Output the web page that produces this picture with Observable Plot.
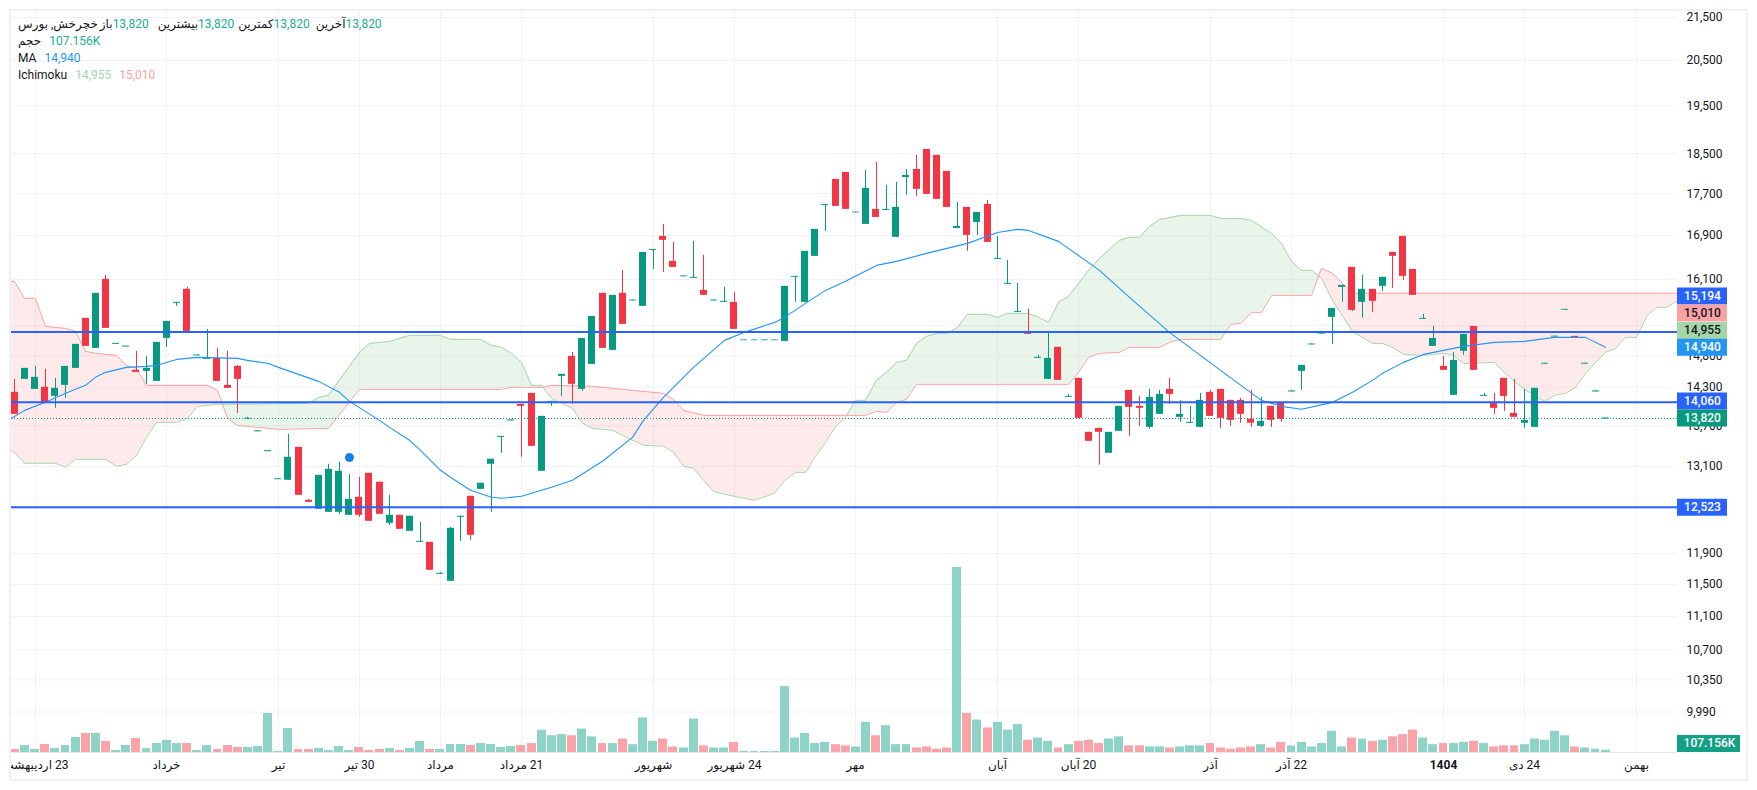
<!DOCTYPE html>
<html><head><meta charset="utf-8">
<script src="https://cdn.jsdelivr.net/npm/d3@7"></script>
<script src="https://cdn.jsdelivr.net/npm/@observablehq/plot@0.6"></script>
<style>
html,body{margin:0;padding:0;background:#fff;width:1757px;height:790px;overflow:hidden}
#box{position:absolute;left:9px;top:9px;width:1739px;height:772px;border:2px solid #f0f0f5;box-sizing:border-box;background:#fff}
#box svg{position:absolute;left:0;top:0}
#legend{position:absolute;left:7px;top:5px;z-index:5;font:12px Roboto,"DejaVu Sans",sans-serif;color:#131722;line-height:17px;direction:ltr}
#legend .row{display:flex;height:17px;white-space:nowrap}
#legend span{unicode-bidi:isolate;display:inline-block}
</style></head><body>
<div id="box"><div id="legend"></div></div>
<script>
const open=[14216,14421,14263,14295,14153,14326,14597,15425,14923,16104,14990,14945,14565,14549,14389,15088,15683,15927,14800,14742,14759,14326,14629,13800,13610,13315,12910,12901,13379,12619,12495,12453,12453,12412,12661,13001,12873,12303,12412,12195,12047,12047,11630,11540,12385,12675,12773,13131,13527,13775,14029,14200,13030,14060,14469,14791,14263,14661,15857,14890,15857,15725,15631,16627,16887,16427,16150,16122,15909,15725,15700,15700,15050,15050,15050,15050,15038,16140,15700,16518,17474,17982,18121,17330,17111,17396,17377,16868,18021,18181,18587,18465,18141,17035,17435,17148,17493,16463,16015,15528,15205,14759,14421,14940,14138,14437,13602,13662,13291,13617,14247,13998,13677,13875,14263,13829,13738,13677,14216,14263,14091,14091,13799,13692,13998,14044,14222,14549,14980,15160,15442,15962,16318,15700,15927,15980,16590,16887,16282,15408,14956,14629,14169,14874,15289,14153,14044,14437,13890,13738,13677,14665,15110,15565,15122,14665,14222,13805];
const close=[13875,14597,14453,14060,14279,14629,14989,14956,15857,15256,15005,14960,14533,14597,15022,15374,15700,15205,14815,14759,14389,14279,14421,13814,13625,13330,12922,13233,12689,12591,12972,13058,13030,12633,12412,12330,12426,12412,12222,12399,12060,11681,11643,12235,12399,12141,12859,13204,13542,13790,13998,13394,13844,14075,14501,14342,15088,15459,14923,15822,15323,15740,16590,16645,16812,16318,16165,16140,15822,15740,15718,15239,15062,15062,15062,15062,15980,16157,16609,17017,17493,17454,17396,17345,17805,17243,17396,17435,18061,17785,17687,17590,17435,17073,16905,17339,16775,16481,16033,15545,15155,14775,14759,14405,14153,13814,13468,13602,13602,13998,13982,13967,14138,14184,14184,13875,13753,14091,13844,13814,13783,13875,13738,13768,13783,13799,14238,14645,14995,15175,15596,15997,15562,15927,15718,16140,16518,16157,15822,15425,15088,14565,14726,15155,14565,14169,13967,14153,13829,13783,14279,14680,15125,15580,15088,14680,14238,13820];
const high=[14421,14597,14629,14581,14437,14629,14989,15425,15857,16175,15005,14960,14874,14791,15022,15374,15700,15962,14815,15239,14923,14874,14645,13829,13625,13330,12922,13572,13379,12633,12972,13131,13160,12986,12944,13001,12873,12689,12412,12399,12317,12047,11655,12249,12399,12675,12859,13204,13542,13790,14029,14200,13844,14075,14501,14857,15088,15459,15857,15822,16264,15740,16590,16645,17111,16775,16165,16793,16536,15740,15962,15874,15062,15062,15062,15062,15980,16157,16609,17017,17493,17982,18121,17345,18161,18322,17864,17923,18181,18465,18587,18465,18141,17531,17435,17339,17570,16887,16445,16033,15579,14808,15189,14940,14184,14437,13602,13662,13602,13998,14247,14153,14263,14247,14437,14091,13998,14200,14247,14263,14091,14122,14247,14138,13998,14044,14238,14645,14995,15175,15596,15997,16318,16175,15927,16140,16590,16887,16282,15494,15289,14791,14857,15155,15289,14200,14200,14437,14421,14263,14279,14680,15125,15580,15122,14680,14238,13820];
const low=[13875,14421,14263,14060,13967,14122,14597,14956,14923,15256,14990,14945,14533,14342,14389,14940,15631,15205,14800,14742,14389,14279,13890,13800,13610,13315,12910,12901,12689,12591,12495,12453,12426,12412,12385,12330,12426,12276,12222,12195,12047,11681,11630,11540,12060,12074,12773,12453,13291,13775,13233,13394,13030,13998,14153,14029,14231,14661,14923,14890,15323,15725,15631,16282,16228,16318,16150,16122,15822,15725,15700,15239,15050,15050,15050,15050,15038,15700,15700,16518,16979,17454,17396,17330,17111,17243,17377,16868,17668,17648,17687,17590,17435,17035,16609,16905,16775,16463,16015,15528,15155,14759,14421,14405,14138,13814,13468,13116,13291,13617,13542,13692,13647,13875,14029,13753,13738,13677,13844,13662,13692,13738,13677,13677,13677,13753,14222,14247,14980,15160,14989,15700,15545,15425,15528,15892,15944,16086,15822,15408,14956,14565,14169,14808,14565,14153,13875,13921,13829,13662,13677,14665,15110,15565,15088,14665,14222,13805];
const volume=[36,84,36,96,48,84,180,228,228,132,24,84,168,48,108,144,108,108,24,84,36,84,60,60,72,468,12,288,36,36,48,24,72,24,60,24,36,48,24,48,132,36,36,96,96,84,108,96,60,72,84,107,268,201,214,201,281,188,107,107,161,94,415,134,161,67,54,402,80,54,54,121,13,13,13,13,791,174,228,107,121,94,80,67,362,201,322,94,94,54,67,40,54,2220,469,389,295,362,268,335,147,174,134,54,94,134,147,107,161,188,80,80,67,67,54,67,80,80,107,54,40,54,67,94,54,121,80,121,67,107,255,67,174,161,134,147,188,214,268,174,94,107,107,121,134,107,67,80,80,94,161,147,255,201,67,54,40,27];

const maIndex=[-0.33,1,3,5,7,8,9,11,13,14,16,18,22,23,25,26,28,30,32,33,36,37,39,40,42,43,45,47,48,50,53,55,58,61,62,64,67,70,72,75,76,78,80,82,85,87,90,94,97,99,100,103,107,110,114,119,123,125,127,130,132,134,135,137,139,143,146,149,152,155,157];
const maValue=[13814,13936,14060,14200,14326,14453,14533,14613,14629,14645,14742,14775,14759,14726,14677,14613,14501,14389,14216,14075,13783,13677,13483,13335,13044,12944,12759,12661,12647,12675,12802,12901,13175,13527,13783,14138,14613,15055,15189,15357,15442,15683,15909,16069,16354,16427,16572,16756,16960,17017,16998,16793,16264,15787,15189,14565,14091,13998,13952,14060,14216,14405,14517,14694,14824,14956,15022,15038,15105,15105,14940];

const leadBIndex=[-0.33,0,1,2,3,5,6,7,8,10,11,12,13,19,20,21,22,26,31,34,48,49,52,53,57,60,61,64,65,66,68,84,85,86,87,88,89,104,105,106,107,109,110,113,114,115,119,120,121,122,123,124,128,129,130,132,164.09];
const leadBValue=[16068,16068,15770,15770,15289,15256,15205,14874,14841,14808,14645,14597,14326,14326,14247,13814,13707,13647,13662,14263,14263,14295,14295,14326,14311,14263,14247,14200,14106,13936,13860,13860,13921,13905,14060,14106,14342,14342,14533,14775,14841,14857,14940,14940,15022,15072,15072,15323,15340,15528,15528,15822,15822,16300,16211,15860,15860];
const leadAIndex=[-0.33,0,1,4,5,6,9,10,11,12,13,14,16,17,18,20,29,30,31,34,35,37,39,42,43,46,47,48,49,50,51,52,53,55,56,57,59,60,62,64,65,66,67,68,69,70,73,75,76,77,78,79,80,81,82,83,84,85,86,87,88,89,90,91,92,93,94,96,97,98,100,101,102,103,104,105,106,107,109,110,111,112,113,115,118,119,121,122,124,125,126,127,128,129,130,132,134,135,136,137,139,141,142,143,146,147,148,149,151,152,153,154,155,156,157,158,159,160,161,162,163,164,164.09];
const leadAValue=[13320,13305,13146,13146,13087,13204,13204,13102,13131,13262,13527,13753,13753,13814,13998,14029,14044,14138,14169,14857,15005,15038,15139,15139,15072,15072,14972,14940,14841,14694,14326,14326,14122,13967,13738,13662,13632,13557,13409,13394,13305,13102,13073,12901,12745,12703,12619,12717,12901,13015,13015,13247,13453,13692,13829,14091,14091,14405,14533,14694,14726,15005,15122,15172,15172,15272,15494,15494,15442,15511,15511,15442,15357,15700,15805,16033,16264,16481,16812,16868,16868,17073,17205,17281,17281,17224,17224,17186,16942,16756,16427,16264,16264,16122,15735,15205,15005,15005,14940,14824,14808,14841,14808,14677,14694,14533,14389,14263,14075,14169,14200,14295,14517,14694,14857,14923,15105,15105,15459,15614,15614,15718,15718];

const gridTicks=[21500,20500,19500,18500,17700,16900,16100,15300,14800,14300,13700,13100,12500,11900,11500,11100,10700,10350,9990];
const priceLabels=[21500,20500,19500,18500,17700,16900,16100,14800,14300,13700,13100,11900,11500,11100,10700,10350,9990];
const timeIndex=[2,15,26,34,42,50,63,71,83,97,105,118,126,149,160];
const timeLabels=["23 اردیبهشت","خرداد","تیر","30 تیر","مرداد","21 مرداد","شهریور","24 شهریور","مهر","آبان","20 آبان","آذر","22 آذر","24 دی","بهمن"];
const yearIndex=[141];
const yearLabels=["1404"];

const levelValues=[15194,14060,12523];
const lastPrice=13820;
const tagText=["15,194","15,010","14,955","14,940","14,060","13,820","12,523"];
const tagLevel=[15810,15516,15222,14940,14080,13820,12523];
const tagFill=["#2962FF","#FAA1A4","#A5D6A7","#2196F3","#2962FF","#089981","#2962FF"];
const tagInk=["#fff","#131722","#131722","#fff","#fff","#fff","#fff"];
const markerIndex=[33];
const markerPrice=[13230];

const UP="#089981",DOWN="#F23645",GRID="#f2f2f6",FONT='Roboto,"DejaVu Sans",sans-serif';
const W=1735,H=768,FRAME=1666,XDOM=[-0.326,164.09],AX1=164.09,AX2=169.02,AXC=166.55,AX2V=170.3,AXCV=167.2;
const frameStyle={fontFamily:FONT,fontSize:"12px",background:"transparent",overflow:"hidden",color:"#131722"};

const candles=open.map((o,i)=>({i,o,c:close[i],h:high[i],l:low[i],v:volume[i],up:close[i]>=o}));
const ups=candles.filter(d=>d.up),downs=candles.filter(d=>!d.up);
const pts=(xs,ys)=>xs.map((x,k)=>({x,y:ys[k]}));

// cloud fill: both spans on the merged set of positions, plus their crossings
const at=(xs,ys,x)=>{let k=d3.bisectRight(xs,x)-1;k=Math.max(0,Math.min(k,xs.length-2));
  const t=(x-xs[k])/(xs[k+1]-xs[k]);return Math.exp(Math.log(ys[k])*(1-t)+Math.log(ys[k+1])*t)};
const xsAll=Array.from(new Set([...leadAIndex,...leadBIndex])).sort((a,b)=>a-b);
const cloud=[];
xsAll.forEach((x,k)=>{const a=at(leadAIndex,leadAValue,x),b=at(leadBIndex,leadBValue,x);
  if(k){const px=xsAll[k-1],pa=at(leadAIndex,leadAValue,px),pb=at(leadBIndex,leadBValue,px);
    const d0=Math.log(pa/pb),d1=Math.log(a/b);
    if(d0*d1<0){const t=d0/(d0-d1),xx=px+t*(x-px),v=at(leadAIndex,leadAValue,xx);cloud.push({x:xx,a:v,b:v})}}
  cloud.push({x,a,b})});

const bodies=(rows,fill)=>Plot.rect(rows,{x1:d=>d.i-.345,x2:d=>d.i+.345,y1:"o",y2:"c",fill});
const wicks=(rows,stroke)=>Plot.ruleX(rows,{x:"i",y1:"l",y2:"h",stroke,strokeWidth:1});

const tags=tagText.map((t,k)=>({t,y:tagLevel[k],f:tagFill[k],ink:tagInk[k]}));

const price=Plot.plot({
  width:W,height:H,marginLeft:0,marginRight:W-FRAME,marginTop:0,marginBottom:27,style:frameStyle,
  x:{domain:XDOM,range:[0,FRAME],axis:null,round:true},
  y:{type:"log",domain:[21500,9990],range:[6,700.5],axis:null},
  marks:[
    Plot.gridY(gridTicks,{stroke:GRID,strokeOpacity:1}),
    Plot.gridX([...timeIndex,...yearIndex],{stroke:GRID,strokeOpacity:1}),
    Plot.axisY(priceLabels,{anchor:"right",tickSize:0,tickPadding:9,tickFormat:d3.format(","),label:null,fontSize:12,fill:"#131722"}),
    Plot.axisX(timeIndex,{anchor:"bottom",tickSize:0,tickPadding:8,label:null,fontSize:12,fill:"#131722",
      tickFormat:d=>"\u202B"+timeLabels[timeIndex.indexOf(d)]+"\u202C"}),
    Plot.axisX(yearIndex,{anchor:"bottom",tickSize:0,tickPadding:8,label:null,fontSize:12,fontWeight:"bold",fill:"#131722",
      tickFormat:d=>yearLabels[yearIndex.indexOf(d)]}),
    Plot.areaY(cloud,{x:"x",y1:"a",y2:d=>Math.min(d.a,d.b),fill:"#a5d6a7",fillOpacity:.24}),
    Plot.areaY(cloud,{x:"x",y1:"b",y2:d=>Math.min(d.a,d.b),fill:"#f77c80",fillOpacity:.16}),
    Plot.line(pts(leadAIndex,leadAValue),{x:"x",y:"y",stroke:"#A5D6A7",strokeWidth:1}),
    Plot.line(pts(leadBIndex,leadBValue),{x:"x",y:"y",stroke:"#FAA1A4",strokeWidth:1}),
    wicks(ups,UP),wicks(downs,DOWN),bodies(ups,UP),bodies(downs,DOWN),
    Plot.line(pts(maIndex,maValue),{x:"x",y:"y",stroke:"#2196F3",strokeWidth:1.1}),
    Plot.ruleY([lastPrice],{stroke:UP,strokeWidth:1,strokeDasharray:"1,2",dy:.5}),
    Plot.ruleY(levelValues,{stroke:"#2962FF",strokeWidth:2}),
    Plot.dot(markerIndex.map((x,k)=>({x,y:markerPrice[k]})),{x:"x",y:"y",r:4,fill:"#0A84FF",stroke:"#1E6FD0",strokeWidth:1}),
    Plot.ruleY(tags,{y:"y",x1:()=>AX1,x2:()=>AX2,stroke:"f",strokeWidth:17}),
    Plot.text(tags,{x:()=>AXC,y:"y",text:"t",fill:"ink",fontSize:12,fontWeight:500})
  ]
});

const volTag=[{y:107.156,t:"107.156K"}];
const vols=Plot.plot({
  width:W,height:H,marginLeft:0,marginRight:W-FRAME,marginTop:0,marginBottom:27,style:frameStyle,
  x:{domain:XDOM,range:[0,FRAME],axis:null,round:true},
  y:{domain:[0,2220],range:[741,556],axis:null},
  marks:[
    Plot.rect(candles,{x1:d=>d.i-.44,x2:d=>d.i+.44,y1:()=>0,y2:"v",fill:d=>d.up?"#8DD4C7":"#FAA3A8"}),
    Plot.ruleY([0],{stroke:"#e6e6ec",strokeWidth:1}),
    Plot.ruleY(volTag,{y:"y",x1:()=>AX1,x2:()=>AX2V,stroke:"#14A085",strokeWidth:17}),
    Plot.text(volTag,{x:()=>AXCV,y:"y",text:"t",fill:"#fff",fontSize:12,fontWeight:500})
  ]
});

const box=document.getElementById("box");
box.insertBefore(price,box.firstChild);
box.insertBefore(vols,price.nextSibling);

const legendRows=[
  [["خچرخش, بورس","#131722",0],["باز","#131722",2],["13,820","#22AB94",0],["بیشترین","#131722",9],["13,820","#22AB94",0],["کمترین","#131722",4],["13,820","#22AB94",0],["آخرین","#131722",6],["13,820","#22AB94",0]],
  [["حجم","#131722",0],["107.156K","#22AB94",8]],
  [["MA","#131722",0],["14,940","#2196F3",8]],
  [["Ichimoku","#131722",0],["14,955","#A5D6A7",8],["15,010","#FAA1A4",8]]
];
const lg=document.getElementById("legend");
legendRows.forEach(r=>{const row=document.createElement("div");row.className="row";
  r.forEach(([t,c,m])=>{const s=document.createElement("span");s.textContent=t;s.style.color=c;s.style.marginLeft=m+"px";row.appendChild(s)});
  lg.appendChild(row)});
</script>
</body></html>
